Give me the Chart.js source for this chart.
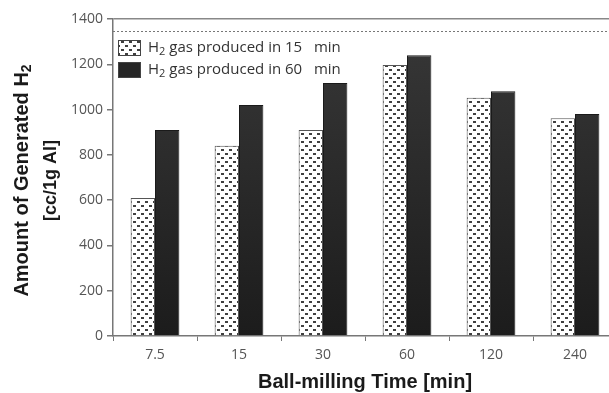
<!DOCTYPE html>
<html>
<head>
<meta charset="utf-8">
<script src="https://cdn.jsdelivr.net/npm/chart.js@4/dist/chart.umd.min.js"></script>
<style>
  html, body { margin: 0; padding: 0; background: #fff; overflow: hidden; }
  #wrap { width: 630px; height: 393px; }
</style>
</head>
<body>
<div id="wrap"><canvas id="c" width="630" height="393"></canvas></div>
<script>
// Ball-milling time categories (min)
const millingTimes = ['7.5', '15', '30', '60', '120', '240'];
// Hydrogen generated after 15 min and 60 min of reaction [cc / 1 g Al]
const h2After15 = [610, 840, 910, 1197, 1052, 962];
const h2After60 = [910, 1020, 1117, 1240, 1081, 980];
// Legend text, split around the subscript "2" of H2
const seriesLabels = [['H', '2', ' gas produced in 15   min'], ['H', '2', ' gas produced in 60   min']];
// Dotted reference level (theoretical yield)
const referenceLevel = 1347;
const yTicks = [0, 200, 400, 600, 800, 1000, 1200, 1400];
const yTitle = [['Amount of Generated H', '2'], ['[cc/1g Al]']];
const xTitle = 'Ball-milling Time [min]';

// Staggered dot fill for the 15-min bars
function dotPattern() {
  const p = document.createElement('canvas');
  p.width = 8; p.height = 8;
  const g = p.getContext('2d');
  g.fillStyle = '#ffffff';
  g.fillRect(0, 0, 8, 8);
  g.fillStyle = '#404040';
  g.fillRect(1, 1, 3, 2);
  g.fillRect(5, 5, 3, 2);
  return g.createPattern(p, 'repeat');
}
const ctx = document.getElementById('c').getContext('2d');
const dots = dotPattern();

function darkFill(context) {
  const area = context.chart.chartArea;
  if (!area) return '#262626';
  const gr = context.chart.ctx.createLinearGradient(0, area.top, 0, area.bottom);
  gr.addColorStop(0, '#383838');
  gr.addColorStop(1, '#1c1c1c');
  return gr;
}

// Text whose second part is a smaller, lowered subscript
function fontOf(weight, size, family) { return (weight ? weight + ' ' : '') + size + 'px ' + family; }
function subWidth(c, parts, size, subSize, family, weight) {
  let w = 0;
  parts.forEach((t, i) => {
    c.font = fontOf(weight, i === 1 ? subSize : size, family);
    w += c.measureText(t).width;
  });
  return w;
}
function subText(c, parts, x, y, size, subSize, family, weight) {
  let cx = x;
  parts.forEach((t, i) => {
    const isSub = i === 1;
    c.font = fontOf(weight, isSub ? subSize : size, family);
    c.fillText(t, cx, y + (isSub ? size * 0.28 : 0));
    cx += c.measureText(t).width;
  });
}

const overlay = {
  id: 'overlay',
  afterDatasetsDraw(chart) {
    const c = chart.ctx, a = chart.chartArea, y = chart.scales.y;
    // dotted reference line
    const yr = y.getPixelForValue(referenceLevel);
    c.save();
    c.strokeStyle = '#777';
    c.lineWidth = 1;
    c.setLineDash([2, 2]);
    c.beginPath();
    c.moveTo(a.left, Math.round(yr) + 0.5);
    c.lineTo(a.right, Math.round(yr) + 0.5);
    c.stroke();
    c.setLineDash([]);
    // legend inside the plot, top-left
    const fills = [dots, '#262626'];
    const lf = '"Open Sans", sans-serif';
    c.textBaseline = 'middle';
    c.textAlign = 'left';
    chart.data.datasets.forEach((ds, i) => {
      const bx = a.left + 5, by = a.top + 21 + i * 22, bw = 23, bh = 16;
      c.fillStyle = fills[i];
      c.fillRect(bx, by, bw, bh);
      c.strokeStyle = '#444';
      c.lineWidth = 1;
      c.strokeRect(bx + 0.5, by + 0.5, bw - 1, bh - 1);
      c.fillStyle = '#333';
      subText(c, seriesLabels[i], bx + 30, by + bh / 2, 15, 11, lf, '');
    });
    c.restore();
  },
  afterDraw(chart) {
    // two-line rotated y-axis title
    const c = chart.ctx, a = chart.chartArea;
    const tf = '"Liberation Sans", Arial, sans-serif';
    const cy = (a.top + a.bottom) / 2 + 3;
    c.save();
    c.fillStyle = '#1a1a1a';
    c.textBaseline = 'middle';
    c.textAlign = 'left';
    const lines = [{ parts: yTitle[0], x: 22, size: 20, sub: 14 }, { parts: yTitle[1], x: 51, size: 18, sub: 13 }];
    lines.forEach(L => {
      c.save();
      c.translate(L.x, cy);
      c.rotate(-Math.PI / 2);
      const w = subWidth(c, L.parts, L.size, L.sub, tf, 'bold');
      subText(c, L.parts, -w / 2, 0, L.size, L.sub, tf, 'bold');
      c.restore();
    });
    c.restore();
  }
};

new Chart(ctx, {
  type: 'bar',
  data: {
    labels: millingTimes,
    datasets: [
      { label: seriesLabels[0].join(''), data: h2After15, backgroundColor: dots,
        borderColor: '#555', borderWidth: 1, borderSkipped: 'bottom' },
      { label: seriesLabels[1].join(''), data: h2After60, backgroundColor: darkFill,
        borderColor: '#1a1a1a', borderWidth: 1, borderSkipped: 'bottom' }
    ]
  },
  options: {
    responsive: false,
    animation: false,
    devicePixelRatio: 1,
    layout: { padding: { top: 19, right: 13, left: 0, bottom: 0 } },
    datasets: { bar: { categoryPercentage: 0.58, barPercentage: 1.0 } },
    plugins: { legend: { display: false }, tooltip: { enabled: false } },
    scales: {
      x: {
        offset: true,
        grid: { offset: true, drawOnChartArea: false, drawTicks: true, tickLength: 5, color: '#777', tickColor: '#777' },
        border: { color: '#777', width: 1.5 },
        ticks: { color: '#555', font: { family: '"Open Sans", sans-serif', size: 14 }, padding: 6 },
        title: { display: true, text: xTitle, color: '#1a1a1a',
                 font: { family: '"Liberation Sans", Arial, sans-serif', size: 20, weight: 'bold', lineHeight: 1.1 }, padding: { top: 0, bottom: 0 } },
        afterFit(s) { s.height = 57; }
      },
      y: {
        min: 0, max: 1400,
        afterBuildTicks(s) { s.ticks = yTicks.map(v => ({ value: v })); },
        grid: { drawOnChartArea: true, drawTicks: true, tickLength: 6,
                color: c => (c.tick && c.tick.value === 1400) ? '#888' : 'rgba(0,0,0,0)',
                lineWidth: 1.5, tickColor: '#777' },
        border: { color: '#777', width: 1.5 },
        ticks: { color: '#555', font: { family: '"Open Sans", sans-serif', size: 14 }, padding: 4,
                 callback: v => String(v) },
        title: { display: false },
        afterFit(s) { s.width = 113; }
      }
    }
  },
  plugins: [overlay]
});
</script>
</body>
</html>
